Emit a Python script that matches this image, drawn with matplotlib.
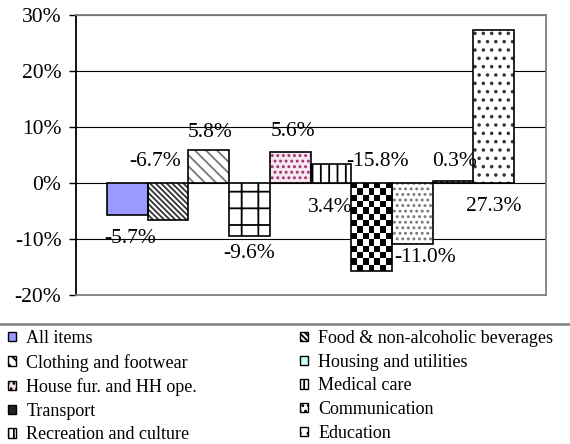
import numpy as np
import matplotlib
matplotlib.use('Agg')
import matplotlib.pyplot as plt
from matplotlib.patches import Patch
from matplotlib.lines import Line2D

# ---------------- data ----------------
categories = ['All items', 'Food & non-alcoholic beverages', 'Clothing and footwear',
              'Housing and utilities', 'House fur. and HH ope.', 'Medical care',
              'Transport', 'Communication', 'Recreation and culture', 'Education']
values = [-5.7, -6.7, 5.8, -9.6, 5.6, 3.4, -15.8, -11.0, 0.3, 27.3]
yticks = [-20, -10, 0, 10, 20, 30]
ytick_labels = ['-20%', '-10%', '0%', '10%', '20%', '30%']

# ---------------- layout / style ----------------
label_dx = [0.06, -0.32, 0.03, 0.0, 0.07, -0.02, 0.15, 0.31, 0.05, 0.0]
label_y = [-10.0, 3.8, 9.0, -12.6, 9.2, -4.4, 3.8, -13.4, 3.8, -4.3]
faces = ['#9999FF', 'white', 'white', 'white', '#F7E6F2', 'white', 'white', 'white', 'white', 'white']
hatches = [None, '\\\\\\\\\\\\', '\\\\\\', '+', '...', '||', None, '...', '|||', '..']
hatch_colors = ['black', '#333333', '#777777', 'black', '#993366', 'black', 'black', '#777777', 'black', '#333333']
legend_faces = ['#9999FF', 'white', 'white', '#CCFFFF', '#F7E6F2', 'white', '#222222', 'white', 'white', 'white']

plt.rcParams['font.family'] = ['Liberation Serif', 'DejaVu Serif']
plt.rcParams['hatch.linewidth'] = 1.3

fig = plt.figure(figsize=(5.7, 4.44), dpi=100)
ax = fig.add_axes([76/570, 1 - 294.5/444, (546 - 76)/570, (294.5 - 15.3)/444])

x = np.arange(len(values))
bars = ax.bar(x, values, width=1.0, color=faces, linewidth=0, zorder=2)
for b, h, hc in zip(bars, hatches, hatch_colors):
    if h:
        b.set_hatch(h)
        b.set_edgecolor(hc)

# checkerboard for Transport
ti = categories.index('Transport')
tv = values[ti]
nx = 7
ny = int(round(abs(tv) / 1.1))
board = np.add.outer(np.arange(ny), np.arange(nx)) % 2
im = ax.imshow(board, cmap='gray', extent=(x[ti] - 0.5, x[ti] + 0.5, tv, 0),
               aspect='auto', interpolation='nearest', zorder=2.5)
im.set_clip_path(bars[ti])

ax.bar(x, values, width=1.0, fill=False, edgecolor='black', linewidth=1.2, zorder=3)

for i, v in enumerate(values):
    ax.text(x[i] + label_dx[i], label_y[i], f'{v:.1f}%', ha='center', va='center',
            fontsize=15.5, zorder=5)

ax.set_xlim(-1.262, 10.286)
ax.set_ylim(-20, 30)
ax.set_yticks(yticks)
ax.set_yticklabels(ytick_labels)
ax.set_xticks([])
ax.yaxis.grid(True, color='black', linewidth=0.8)
ax.set_axisbelow(True)
ax.tick_params(axis='y', direction='out', length=5, width=1, color='black',
               labelsize=15.5, pad=5.5)
ax.spines['left'].set_color('black')
ax.spines['left'].set_linewidth(1.3)
for s in ['top', 'right', 'bottom']:
    ax.spines[s].set_color('#808080')
    ax.spines[s].set_linewidth(1.3)

fig.add_artist(Line2D([0, 1], [1 - 324/444, 1 - 324/444], transform=fig.transFigure,
                      color='#808080', linewidth=1.8))

handles = [Patch(facecolor=legend_faces[i], hatch=hatches[i] if i != 3 else None,
                 edgecolor='black', linewidth=1.0)
           for i in range(len(values))]
common = dict(frameon=False, fontsize=13, handlelength=0.42, handleheight=0.42,
              handletextpad=0.6, labelspacing=0.37, borderpad=0, borderaxespad=0,
              loc='upper left')
leg1 = fig.legend([handles[i] for i in range(0, 10, 2)],
                  [categories[i] for i in range(0, 10, 2)],
                  bbox_to_anchor=(8/570, 1 - 330/444), **common)
leg2 = fig.legend([handles[i] for i in range(1, 10, 2)],
                  [categories[i] for i in range(1, 10, 2)],
                  bbox_to_anchor=(300/570, 1 - 330/444), **common)

fig.savefig('out.png', dpi=100)
